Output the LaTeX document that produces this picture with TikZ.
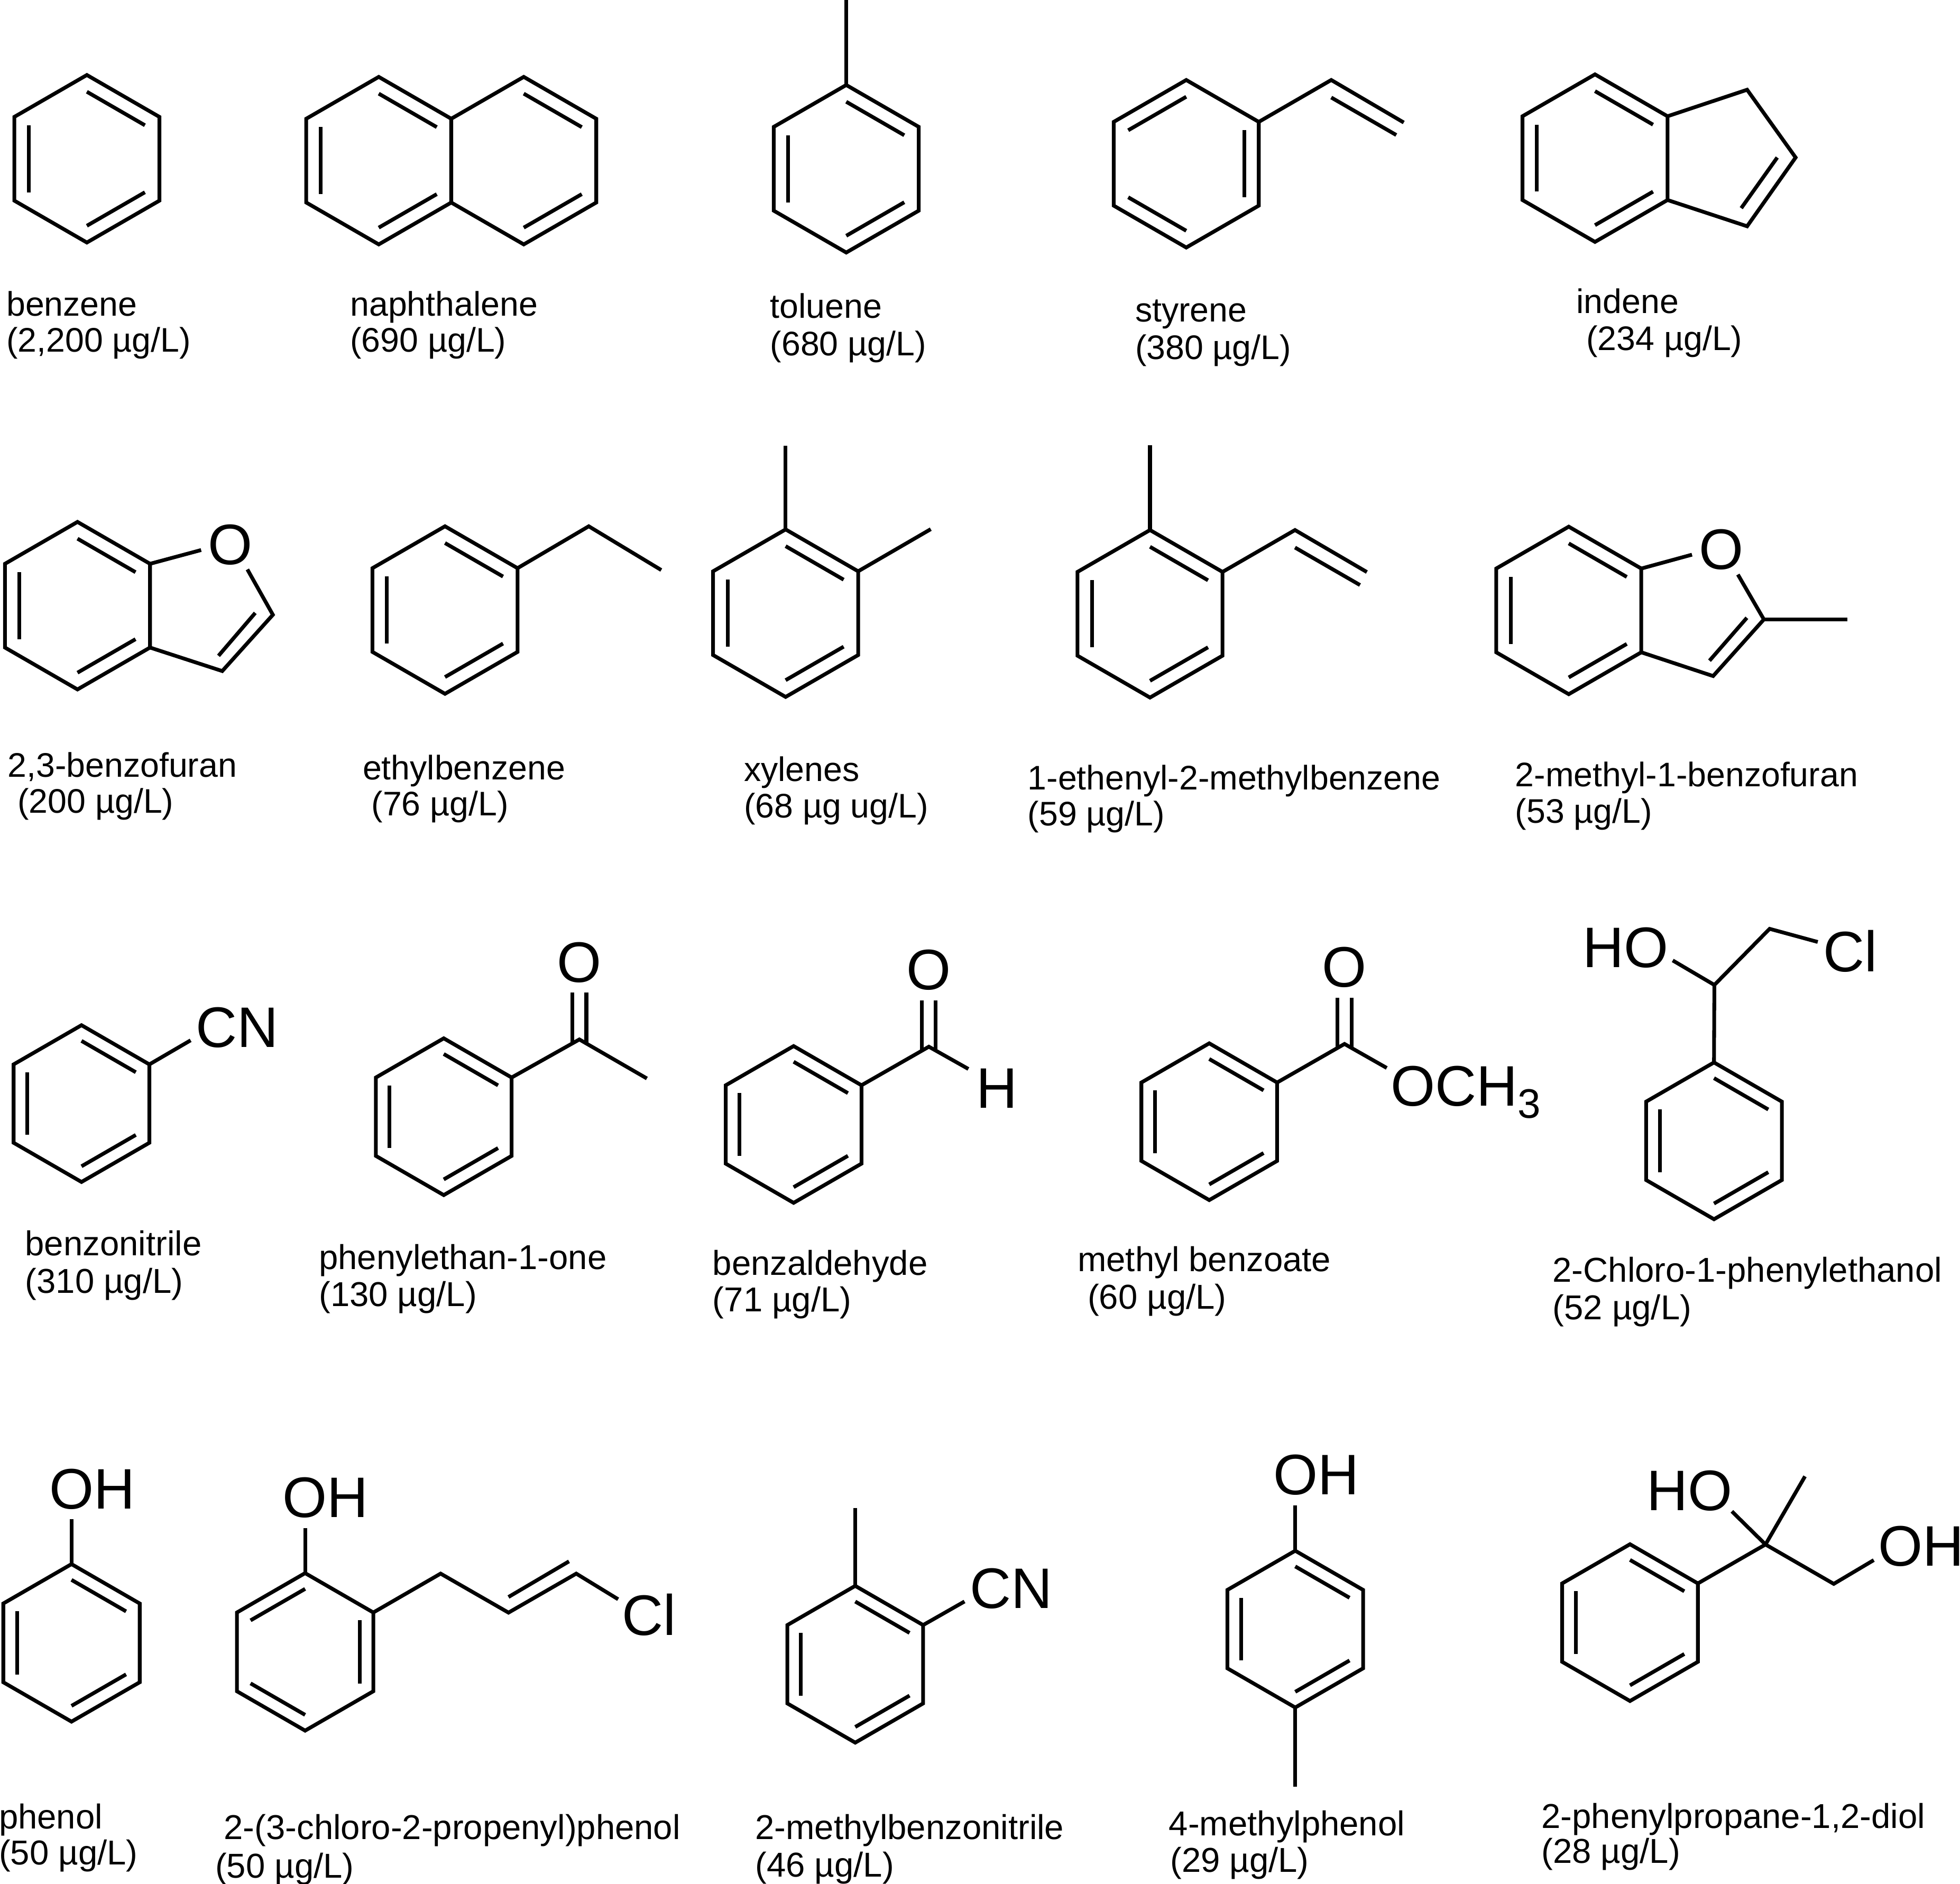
\documentclass[tikz,border=0pt]{standalone}
\usepackage{fontspec}
\setmainfont{Liberation Sans}
\usetikzlibrary{calc}
\tikzstyle{bond} = [draw, line width=0.85pt, line join=miter]
\tikzstyle{atom} = [inner sep=0pt, font=\fontsize{13}{13}\selectfont]
\tikzstyle{lbl} = [inner sep=0pt, anchor=base west, xshift=-0.15pt, yshift=-0.15pt,
    font=\fontsize{7.75}{7.75}\selectfont]

% hexagon with vertices #1-1 (top) clockwise to #1-6
\newcommand{\hexa}[4]{%
  \coordinate (#1) at (#2,#3);
  \foreach \i/\a in {1/-90,2/-30,3/30,4/90,5/150,6/210}
    \coordinate (#1-\i) at ($(#1)+(\a:#4)$);
  \draw [bond] (#1-1) -- (#1-2) -- (#1-3) -- (#1-4) -- (#1-5) -- (#1-6) -- cycle;
}
% inner line of a double bond
\newcommand{\dbl}[3]{\draw [bond] ($(#1)!.8!(#1-#2)$) -- ($(#1)!.8!(#1-#3)$);}
\newcommand{\ring}[4]{%
  \hexa{#1}{#2}{#3}{#4}
  \dbl{#1}{1}{2} \dbl{#1}{3}{4} \dbl{#1}{5}{6}
}
\newcommand{\ringb}[4]{%
  \hexa{#1}{#2}{#3}{#4}
  \dbl{#1}{6}{1} \dbl{#1}{2}{3} \dbl{#1}{4}{5}
}
\newcommand{\lab}[7]{%
  \node [lbl] (#1n) at (#2,#3) {#4};
  \node [lbl] (#1c) at (#5,#6) {#7};
}

\begin{document}
\begin{tikzpicture}[x=0.01cm, y=-0.01cm]
    \useasboundingbox (0,0) rectangle (1568,1506.7);

    % row 1
    \ring{ben}{69.5}{127}{67}
    \lab{ben}{5}{252}{benzene}{5}{281}{(2,200 µg/L)}

    \ring{naa}{303}{128.5}{67}
    \hexa{nab}{419}{128.5}{67}
    \dbl{nab}{1}{2} \dbl{nab}{3}{4}
    \lab{nap}{280}{252}{naphthalene}{280}{281}{(690 µg/L)}

    \ring{tol}{677}{135}{67}
    \draw [bond] (tol-1) -- (677,0);
    \lab{tol}{616}{254}{toluene}{616}{284}{(680 µg/L)}

    \ringb{sty}{949}{131}{67}
    \draw [bond] (sty-2) -- (1065,64) -- (1123,98);
    \draw [bond] (1065,78) -- (1117,108);
    \lab{sty}{908}{257}{styrene}{908}{287}{(380 µg/L)}

    \ring{ind}{1276}{126.5}{67}
    \draw [bond] (ind-2) -- (1397.7,71.8) -- (1436.5,126) -- (1397.7,181) -- (ind-3);
    \draw [bond] (1421.8,126) -- (1393,166.5);
    \lab{ind}{1261}{250}{indene}{1269}{279.5}{(234 µg/L)}

    % row 2
    \ring{bfu}{62}{484.5}{67}
    \node [atom] (bfuO) at (184.2,435.6) {O};
    \draw [bond] (bfu-2) -- (160.9,440);
    \draw [bond] (197.9,455.5) -- (218.3,491.8) -- (177.8,536.8) -- (bfu-3);
    \draw [bond] (204.2,490.3) -- (174.8,524.6);
    \lab{bfu}{6}{621}{2,3-benzofuran}{14}{650}{(200 µg/L)}

    \ring{eth}{356}{488}{67}
    \draw [bond] (eth-2) -- (471,421) -- (529,456);
    \lab{eth}{290}{623}{ethylbenzene}{297}{652}{(76 µg/L)}

    \ring{xyl}{628.5}{490.5}{67}
    \draw [bond] (xyl-1) -- (628.5,356.4);
    \draw [bond] (xyl-2) -- (744.6,423.3);
    \lab{xyl}{595}{624.5}{xylenes}{595}{653.7}{(68 µg ug/L)}

    \ring{emb}{920}{491}{67}
    \draw [bond] (emb-1) -- (920,356);
    \draw [bond] (emb-2) -- (1036,424) -- (1093.5,457.6);
    \draw [bond] (1036,438) -- (1088,468);
    \lab{emb}{822}{631}{1-ethenyl-2-methylbenzene}{822}{660}{(59 µg/L)}

    \ring{mbf}{1255}{488.3}{67}
    \node [atom] (mbfO) at (1377.2,439.6) {O};
    \draw [bond] (mbf-2) -- (1353.6,443.7);
    \draw [bond] (1390.3,459.6) -- (1411.1,495.5) -- (1370.5,540.8) -- (mbf-3);
    \draw [bond] (1397.5,494.2) -- (1367.6,528.5);
    \draw [bond] (1411.1,495.5) -- (1477.7,495.5);
    \lab{mbf}{1212}{628.5}{2-methyl-1-benzofuran}{1212}{657.8}{(53 µg/L)}

    % row 3
    \tikzstyle{lbl} = [inner sep=0pt, anchor=base west, xshift=-0.15pt, yshift=-0.15pt,
        font=\fontsize{7.85}{7.85}\selectfont]
    \ring{bni}{65.2}{882.8}{62.7}
    \node [atom] (bniCN) at (189.9,821.9) {CN};
    \draw [bond] (bni-2) -- (152.5,832.2);
    \lab{bni}{20}{1004}{benzonitrile}{20}{1034}{(310 µg/L)}

    \ring{phe}{355}{893.3}{62.7}
    \node [atom] (pheO) at (463.5,770) {O};
    \coordinate (pheC) at (463.5,831.5);
    \draw [bond] (phe-2) -- (pheC) -- (517.5,862.7);
    \draw [bond] (457.9,834.7) -- (457.9,794);
    \draw [bond] (469.1,834.7) -- (469.1,794);
    \lab{phe}{255}{1015}{phenylethan-1-one}{255}{1044.5}{(130 µg/L)}

    \ring{bal}{634.9}{899.5}{62.7}
    \node [atom] (balO) at (743,775.9) {O};
    \node [atom] (balH) at (797.4,870.5) {H};
    \coordinate (balC) at (743.1,837.3);
    \draw [bond] (bal-2) -- (balC) -- (774.7,855.1);
    \draw [bond] (737.6,840.5) -- (737.6,800.4);
    \draw [bond] (748.6,840.5) -- (748.6,800.4);
    \lab{bal}{570}{1019.4}{benzaldehyde}{570}{1048.8}{(71 µg/L)}

    \ring{mbz}{967.4}{897.3}{62.7}
    \node [atom] (mbzO) at (1075.6,773.7) {O};
    \node [atom, anchor=base west] (mbzOM) at (1112,884.5) {OCH\raisebox{-2.85pt}{\fontsize{9.4}{9.4}\selectfont 3}};
    \coordinate (mbzC) at (1075.6,835.1);
    \draw [bond] (mbz-2) -- (mbzC) -- (1109.4,854.3);
    \draw [bond] (1070,838.3) -- (1070,798.2);
    \draw [bond] (1081.2,838.3) -- (1081.2,798.2);
    \lab{mbz}{862}{1016.7}{methyl benzoate}{870}{1046.7}{(60 µg/L)}

    \ring{cpe}{1371.2}{912.6}{62.7}
    \node [atom] (cpeHO) at (1300.6,758) {HO};
    \node [atom] (cpeCl) at (1480.4,760.8) {Cl};
    \coordinate (cpeC) at (1371.5,787.9);
    \draw [bond] (cpe-1) -- (cpeC) -- (1338.2,768.3);
    \draw [bond] (cpeC) -- (1415.7,743) -- (1454.2,753.5);
    \lab{cpe}{1242}{1025}{2-Chloro-1-phenylethanol}{1242}{1055}{(52 µg/L)}

    % row 4
    \ring{pol}{57.2}{1314.2}{63}
    \node [atom] (polOH) at (73.8,1191.3) {OH};
    \draw [bond] (pol-1) -- (57.2,1215.4);
    \lab{pol}{-1}{1462.5}{phenol}{-1}{1491}{(50 µg/L)}

    \ringb{cpp}{244.1}{1321.4}{63}
    \node [atom] (cppOH) at (260.3,1197.9) {OH};
    \node [atom] (cppCl) at (519.3,1291.8) {Cl};
    \draw [bond] (cpp-1) -- (244.1,1222.4);
    \draw [bond] (cpp-2) -- (352.5,1258.8) -- (406.8,1290) -- (461,1258.8) -- (494.5,1279.3);
    \draw [bond] (406.8,1277.5) -- (455.2,1249);
    \lab{cpp}{179}{1471}{2-(3-chloro-2-propenyl)phenol}{172}{1501.5}{(50 µg/L)}

    \ring{mbn}{684.2}{1331.3}{62.7}
    \node [atom] (mbnCN) at (808.9,1270.6) {CN};
    \draw [bond] (mbn-1) -- (684.2,1206.4);
    \draw [bond] (mbn-2) -- (771.6,1281.1);
    \lab{mbn}{604}{1471}{2-methylbenzonitrile}{604}{1501}{(46 µg/L)}

    \ring{cre}{1036.2}{1303.2}{62.7}
    \node [atom] (creOH) at (1052.9,1179.9) {OH};
    \draw [bond] (cre-1) -- (1036.2,1204.1);
    \draw [bond] (cre-4) -- (1036.2,1429.4);
    \lab{cre}{935}{1468}{4-methylphenol}{936}{1497}{(29 µg/L)}

    \ring{ppd}{1304}{1298}{62.7}
    \node [atom] (ppdHO) at (1351.5,1192.5) {HO};
    \node [atom] (ppdOH) at (1537,1237) {OH};
    \coordinate (ppdC) at (1412.4,1235.5);
    \draw [bond] (ppd-2) -- (ppdC) -- (1467,1267) -- (1499,1248);
    \draw [bond] (ppdC) -- (1385.5,1209);
    \draw [bond] (ppdC) -- (1444,1181);
    \lab{ppd}{1233}{1462}{2-phenylpropane-1,2-diol}{1233}{1490}{(28 µg/L)}
\end{tikzpicture}
\end{document}
